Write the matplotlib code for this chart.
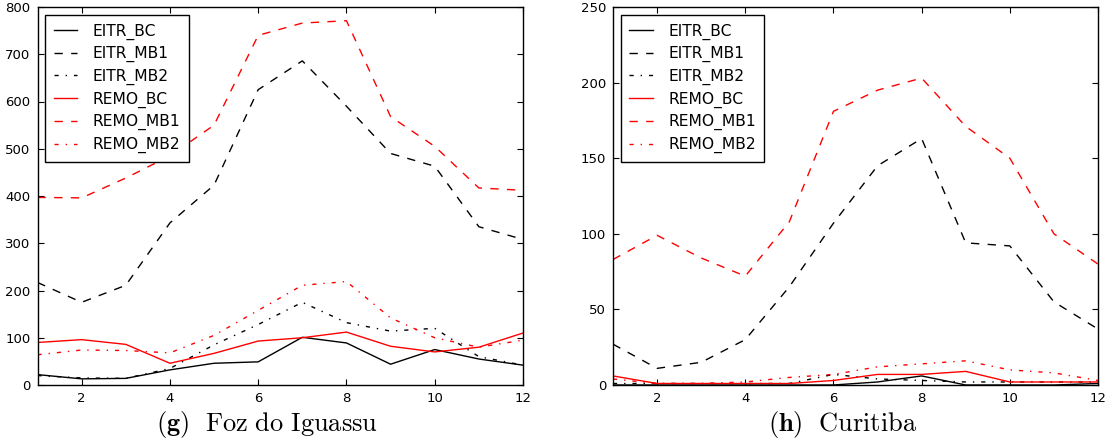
import matplotlib
matplotlib.use("Agg")
import matplotlib.pyplot as plt

plt.rcParams['mathtext.fontset'] = 'cm'
plt.rcParams['font.family'] = ['DejaVu Sans']

months = [1, 2, 3, 4, 5, 6, 7, 8, 9, 10, 11, 12]
series_names = ["EITR_BC", "EITR_MB1", "EITR_MB2", "REMO_BC", "REMO_MB1", "REMO_MB2"]

# Foz do Iguassu
foz_eitr_bc = [22, 13, 14, 32, 46, 49, 101, 89, 44, 75, 55, 42]
foz_eitr_mb1 = [217, 175, 211, 343, 423, 625, 686, 590, 490, 463, 335, 308]
foz_eitr_mb2 = [20, 15, 14, 35, 85, 128, 175, 132, 114, 120, 60, 42]
foz_remo_bc = [90, 96, 86, 46, 67, 93, 100, 112, 82, 70, 80, 110]
foz_remo_mb1 = [397, 396, 438, 485, 550, 740, 766, 771, 568, 505, 417, 412]
foz_remo_mb2 = [64, 74, 73, 68, 105, 158, 211, 219, 142, 100, 80, 95]

# Curitiba
cur_eitr_bc = [0, 0, 0, 0, 0, 0, 2, 6, 0, 0, 0, 1]
cur_eitr_mb1 = [27, 11, 15, 30, 65, 107, 145, 163, 94, 92, 55, 37]
cur_eitr_mb2 = [1, 1, 1, 1, 1, 7, 4, 3, 2, 2, 2, 2]
cur_remo_bc = [6, 1, 1, 1, 1, 3, 7, 7, 9, 2, 2, 2]
cur_remo_mb1 = [83, 99, 84, 72, 108, 181, 195, 203, 171, 150, 100, 80]
cur_remo_mb2 = [4, 1, 1, 2, 5, 7, 12, 14, 16, 10, 8, 3]

foz = [foz_eitr_bc, foz_eitr_mb1, foz_eitr_mb2, foz_remo_bc, foz_remo_mb1, foz_remo_mb2]
cur = [cur_eitr_bc, cur_eitr_mb1, cur_eitr_mb2, cur_remo_bc, cur_remo_mb1, cur_remo_mb2]

colors = ['k', 'k', 'k', 'r', 'r', 'r']
styles = ['-', (0, (6, 6)), (0, (3, 5, 1, 5)), '-', (0, (6, 6)), (0, (3, 5, 1, 5))]

W, H = 1111, 443
TOP, BOT = 7, 385
fig = plt.figure(figsize=(W / 100, H / 100), dpi=100)

def make_axes(x0, x1, data, ymax, yticks, caption, cx):
    ax = fig.add_axes([x0 / W, (H - BOT) / H, (x1 - x0) / W, (BOT - TOP) / H])
    for vals, name, c, ls in zip(data, series_names, colors, styles):
        ax.plot(months, vals, color=c, linestyle=ls, linewidth=1.0, label=name)
    ax.set_xlim(1, 12)
    ax.set_ylim(0, ymax)
    ax.set_xticks([2, 4, 6, 8, 10, 12])
    ax.set_yticks(yticks)
    ax.tick_params(direction='in', top=True, right=True, length=4, width=0.8,
                   labelsize=9.5, pad=5)
    for s in ax.spines.values():
        s.set_linewidth(1.0)
    leg = ax.legend(loc='upper left', fontsize=11.2, fancybox=False, framealpha=1,
                    edgecolor='black', borderaxespad=0.5, handlelength=1.5,
                    handletextpad=1.0, labelspacing=0.42, borderpad=0.55)
    leg.get_frame().set_linewidth(1.0)
    fig.text(cx / W, 1 - 424 / H, caption, ha='center', va='center', fontsize=19)
    return ax

make_axes(37.5, 523, foz, 800, [0, 100, 200, 300, 400, 500, 600, 700, 800],
          r'$\mathbf{(g)}\ \ \mathrm{Foz\ do\ Iguassu}$', 267)
make_axes(613, 1098, cur, 250, [0, 50, 100, 150, 200, 250],
          r'$\mathbf{(h)}\ \ \mathrm{Curitiba}$', 843)

fig.savefig('out.png', dpi=100)
